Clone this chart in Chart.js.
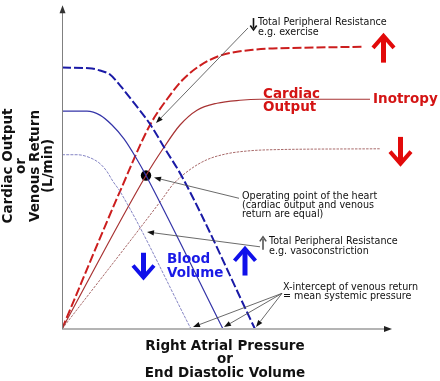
<!DOCTYPE html>
<html>
<head>
<meta charset="utf-8">
<script src="https://cdn.jsdelivr.net/npm/chart.js@4.4.1/dist/chart.umd.min.js"></script>
<style>
  html, body { margin: 0; padding: 0; background: #ffffff; }
  #wrap { width: 440px; height: 381px; }
</style>
</head>
<body>
<div id="wrap"><canvas id="c" width="440" height="381"></canvas></div>
<script>
// ---- Data (arbitrary units: x = right atrial pressure, y = flow) ----
const venousHigh = [[0,264],[30,263],[38,261],[48,257],[58,246],[73,227],[88,207],[103,182],[121,152],[193,0]];
const venousNorm = [[0,220],[25,220],[38,216],[50,206],[62,192],[74,173],[84,155],[161,0]];
const venousLow  = [[0,176],[15,176],[28,173],[38,167],[45,159],[51,149],[58,139],[129,0]];
const cardiacHigh = [[0,0],[58,139],[88,206],[105,232],[121,252],[138,266],[158,276],[191,282],[241,284],[301,285]];
const cardiacNorm = [[0,0],[84,155],[101,182],[118,206],[135,221],[155,228],[178,231],[198,232],[308,232]];
const cardiacLow  = [[0,0],[100,131],[111,146],[128,161],[145,171],[165,177],[188,180],[208,181],[318,182]];
const operatingPoint = [[84,155]];
const xRange = [0, 330];
const yRange = [0, 327];

// Text labels
const yTitle = ["Cardiac Output", "or", "Venous Return", "(L/min)"];
const xTitle = ["Right Atrial Pressure", "or", "End Diastolic Volume"];
const tprDown = ["Total Peripheral Resistance", "e.g. exercise"];
const tprUp = ["Total Peripheral Resistance", "e.g. vasoconstriction"];
const opText = ["Operating point of the heart", "(cardiac output and venous", "return are equal)"];
const interceptText = ["X-intercept of venous return", "= mean systemic pressure"];
const coText = ["Cardiac", "Output"];
const inoText = "Inotropy";
const bvText = ["Blood", "Volume"];

const toXY = arr => arr.map(p => ({x: p[0], y: p[1]}));

// ---- Annotation drawing plugin ----
const annotations = {
  id: 'annotations',
  afterDraw(chart) {
    const ctx = chart.ctx;
    const sx = chart.scales.x, sy = chart.scales.y;
    const X = v => sx.getPixelForValue(v);
    const Y = v => sy.getPixelForValue(v);
    const ca = chart.chartArea;
    ctx.save();

    // axes
    ctx.lineCap = 'butt';
    ctx.strokeStyle = '#b4b4b4';
    ctx.lineWidth = 2;
    ctx.beginPath(); ctx.moveTo(ca.left, ca.bottom); ctx.lineTo(ca.right - 6, ca.bottom); ctx.stroke();
    ctx.fillStyle = '#222';
    ctx.beginPath(); ctx.moveTo(ca.right, ca.bottom); ctx.lineTo(ca.right - 8, ca.bottom - 3); ctx.lineTo(ca.right - 8, ca.bottom + 3); ctx.closePath(); ctx.fill();
    ctx.strokeStyle = '#808080';
    ctx.lineWidth = 1;
    ctx.beginPath(); ctx.moveTo(ca.left + 0.5, ca.bottom); ctx.lineTo(ca.left + 0.5, ca.top + 6); ctx.stroke();
    ctx.fillStyle = '#333';
    ctx.beginPath(); ctx.moveTo(ca.left + 0.5, ca.top); ctx.lineTo(ca.left - 2.5, ca.top + 8); ctx.lineTo(ca.left + 3.5, ca.top + 8); ctx.closePath(); ctx.fill();

    function pointer(x1, y1, x2, y2, color) {
      const px1 = X(x1), py1 = Y(y1), px2 = X(x2), py2 = Y(y2);
      const a = Math.atan2(py2 - py1, px2 - px1);
      const hl = 7, hw = 2.6;
      const bx = px2 - hl * Math.cos(a), by = py2 - hl * Math.sin(a);
      ctx.strokeStyle = color; ctx.lineWidth = 0.8;
      ctx.beginPath(); ctx.moveTo(px1, py1); ctx.lineTo(bx, by); ctx.stroke();
      ctx.fillStyle = '#111';
      ctx.beginPath();
      ctx.moveTo(px2, py2);
      ctx.lineTo(bx + hw * Math.sin(a), by - hw * Math.cos(a));
      ctx.lineTo(bx - hw * Math.sin(a), by + hw * Math.cos(a));
      ctx.closePath(); ctx.fill();
    }
    function bigArrow(x, yTail, yTip, color, shaftW, headHalf, headLen, headW) {
      const px = X(x), pt = Y(yTail), pp = Y(yTip);
      const dir = Math.sign(pp - pt);
      ctx.strokeStyle = color; ctx.lineCap = 'butt'; ctx.lineJoin = 'miter';
      ctx.lineWidth = shaftW;
      ctx.beginPath(); ctx.moveTo(px, pt); ctx.lineTo(px, pp - dir * 2); ctx.stroke();
      ctx.lineWidth = headW;
      ctx.beginPath();
      ctx.moveTo(px - headHalf, pp - dir * headLen);
      ctx.lineTo(px, pp);
      ctx.lineTo(px + headHalf, pp - dir * headLen);
      ctx.stroke();
    }
    function lines(arr, x, yFirst, step, font, color) {
      ctx.font = font; ctx.fillStyle = color; ctx.textAlign = 'left'; ctx.textBaseline = 'middle';
      arr.forEach((t, i) => ctx.fillText(t, X(x), Y(yFirst) + i * step));
    }

    // pointer lines
    pointer(186, 304, 94, 208, '#444');
    pointer(177, 132, 92, 153, '#444');
    pointer(198, 83, 85, 98, '#444');
    pointer(220, 36, 131, 2, '#444');
    pointer(220, 36, 162, 2, '#444');
    pointer(220, 36, 194, 2, '#444');

    // small arrows
    bigArrow(191.5, 314, 302, '#111', 1.6, 3.2, 4.5, 1.6);
    bigArrow(201, 80, 93, '#555', 1.6, 3.2, 4.5, 1.6);

    // big arrows
    bigArrow(321.5, 269, 296, '#e20a0a', 5, 10.5, 12, 4);
    bigArrow(338.5, 194, 167, '#e20a0a', 5, 10.5, 12, 4);
    bigArrow(81.5, 77, 52, '#1010ea', 5, 10.5, 12, 4);
    bigArrow(183, 54, 81, '#1010ea', 5, 10.5, 12, 4);

    // small annotation texts
    const small = '9.6px "DejaVu Sans"';
    lines(tprDown, 196, 310, 10.5, small, '#111');
    lines(opText, 180, 134, 9, small, '#111');
    lines(tprUp, 207, 88, 10, small, '#111');
    lines(interceptText, 221, 42, 9, small, '#111');

    // coloured labels
    ctx.textBaseline = 'alphabetic'; ctx.textAlign = 'left';
    ctx.font = 'bold 13.5px "DejaVu Sans"';
    ctx.fillStyle = '#d41414';
    ctx.fillText(coText[0], X(201), Y(233.5));
    ctx.fillText(coText[1], X(201), Y(220));
    ctx.fillText(inoText, X(311), Y(228.5));
    ctx.fillStyle = '#1a1ae6';
    ctx.fillText(bvText[0], X(105), Y(67));
    ctx.fillText(bvText[1], X(105), Y(52.5));

    // axis titles
    ctx.fillStyle = '#111';
    ctx.font = 'bold 13.5px "DejaVu Sans"';
    ctx.textAlign = 'center';
    const xc = (ca.left + ca.right) / 2 - 2;
    [350, 363, 377].forEach((b, i) => ctx.fillText(xTitle[i], xc, b));
    [12, 25, 39, 52].forEach((b, i) => {
      ctx.save();
      ctx.translate(b, 166);
      ctx.rotate(-Math.PI / 2);
      ctx.fillText(yTitle[i], 0, 0);
      ctx.restore();
    });
    ctx.restore();
  }
};

const lineDs = (data, color, width, dash) => ({
  data: toXY(data), borderColor: color, borderWidth: width, borderDash: dash,
  pointRadius: 0, fill: false, cubicInterpolationMode: 'monotone', borderCapStyle: 'butt'
});

new Chart(document.getElementById('c'), {
  type: 'line',
  data: {
    datasets: [
      lineDs(venousLow, '#8585c4', 1, [3, 1.2]),
      lineDs(venousNorm, '#3434a8', 1.2, []),
      lineDs(venousHigh, '#1a1aa6', 2, [9, 3]),
      lineDs(cardiacLow, '#a86a6a', 1, [2.5, 1.2]),
      lineDs(cardiacNorm, '#a83434', 1.2, []),
      lineDs(cardiacHigh, '#cc1e1e', 2, [9, 3]),
      { data: toXY(operatingPoint), showLine: false, pointRadius: 5.2, pointBackgroundColor: '#000', pointBorderColor: '#000', pointBorderWidth: 0 }
    ]
  },
  options: {
    responsive: false,
    animation: false,
    devicePixelRatio: 1,
    layout: { padding: { left: 62, right: 48, top: 2, bottom: 52 } },
    plugins: { legend: { display: false }, tooltip: { enabled: false } },
    scales: {
      x: { type: 'linear', min: xRange[0], max: xRange[1], display: false },
      y: { type: 'linear', min: yRange[0], max: yRange[1], display: false }
    }
  },
  plugins: [annotations]
});
</script>
</body>
</html>
